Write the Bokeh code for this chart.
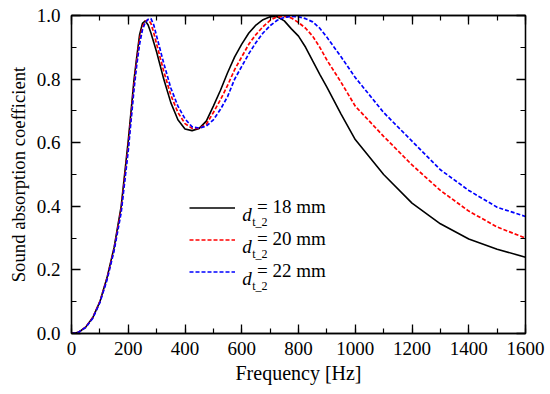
from bokeh.plotting import figure
from bokeh.models import (Range1d, LinearAxis, SingleIntervalTicker, PrintfTickFormatter,
                          CustomJSTickFormatter, Legend, LegendItem, Label, Title)
from bokeh.embed import file_html
from bokeh.resources import INLINE

# ---- data ----
freq = [0, 25, 50, 75, 100, 125, 150, 175,
        200, 210, 220, 230, 240, 250, 260, 270, 280, 290, 300,
        325, 350, 375, 400, 425, 450, 475, 500, 525, 550, 575, 600, 625, 650, 675,
        700, 725, 750, 775, 800, 825, 850, 875, 900,
        950, 1000, 1100, 1200, 1300, 1400, 1500, 1600]

alpha_18 = [0.0, 0.004, 0.02, 0.05, 0.10, 0.175, 0.27, 0.40,
            0.607, 0.70, 0.795, 0.87, 0.94, 0.975, 0.983, 0.97, 0.945, 0.915, 0.885,
            0.80, 0.726, 0.672, 0.643, 0.638, 0.645, 0.668, 0.715, 0.765, 0.82, 0.87,
            0.91, 0.945, 0.97, 0.987, 0.996, 0.996, 0.983, 0.958, 0.935, 0.90, 0.857,
            0.815, 0.775,
            0.69, 0.61, 0.50, 0.41, 0.345, 0.297, 0.265, 0.24]

alpha_20 = [0.0, 0.004, 0.02, 0.05, 0.10, 0.172, 0.265, 0.39,
            0.59, 0.685, 0.78, 0.86, 0.925, 0.965, 0.982, 0.987, 0.975, 0.945, 0.91,
            0.825, 0.75, 0.695, 0.66, 0.645, 0.645, 0.658, 0.695, 0.735, 0.78, 0.83,
            0.87, 0.91, 0.94, 0.965, 0.985, 0.996, 0.997, 0.992, 0.978, 0.96, 0.935,
            0.90, 0.86,
            0.79, 0.715, 0.62, 0.53, 0.45, 0.385, 0.335, 0.30]

alpha_22 = [0.0, 0.004, 0.019, 0.048, 0.097, 0.168, 0.26, 0.38,
            0.575, 0.67, 0.765, 0.845, 0.91, 0.955, 0.978, 0.988, 0.99, 0.97, 0.935,
            0.85, 0.772, 0.715, 0.675, 0.65, 0.646, 0.652, 0.672, 0.705, 0.745, 0.80,
            0.84, 0.88, 0.915, 0.945, 0.968, 0.985, 0.994, 0.997, 0.996, 0.99, 0.98,
            0.96, 0.932,
            0.87, 0.805, 0.695, 0.605, 0.515, 0.45, 0.397, 0.368]

legend_values = ["= 18 mm", "= 20 mm", "= 22 mm"]
legend_symbol = "d"
legend_sub = "t_2"
x_label = "Frequency [Hz]"
y_label = "Sound absorption coefficient"

FONT = "Liberation Serif"

p = figure(width=550, height=394, output_backend="svg", toolbar_location=None,
           x_range=Range1d(0, 1600), y_range=Range1d(0, 1.0),
           min_border_left=71, min_border_right=25, min_border_top=15, min_border_bottom=61,
           x_axis_label=x_label)
p.background_fill_color = "white"
p.border_fill_color = "white"
p.outline_line_color = "black"
p.outline_line_width = 1.3
p.xgrid.visible = False
p.ygrid.visible = False


def style_axis(ax, show_labels=True):
    ax.axis_line_color = "black"
    ax.axis_line_width = 1.3
    ax.major_tick_line_color = "black"
    ax.major_tick_line_width = 1.3
    ax.minor_tick_line_color = "black"
    ax.minor_tick_line_width = 1.2
    ax.major_tick_in = 9
    ax.major_tick_out = 0
    ax.minor_tick_in = 5
    ax.minor_tick_out = 0
    ax.major_label_text_font = FONT
    ax.major_label_text_color = "black"
    ax.axis_label_text_font = FONT
    ax.axis_label_text_font_style = "normal"
    ax.axis_label_text_color = "black"
    ax.axis_label_text_font_size = "20px"
    ax.major_label_text_font_size = "19px"
    if not show_labels:
        ax.formatter = CustomJSTickFormatter(code="return ''")
        ax.major_label_standoff = 0


p.xaxis.ticker = SingleIntervalTicker(interval=200, num_minor_ticks=2)
p.yaxis.ticker = SingleIntervalTicker(interval=0.2, num_minor_ticks=2)
p.yaxis.formatter = PrintfTickFormatter(format="%.1f")
for ax in p.xaxis:
    style_axis(ax)
    ax.major_label_standoff = 8
    ax.axis_label_standoff = 4
for ax in p.yaxis:
    style_axis(ax)
    ax.major_label_standoff = 11

top = LinearAxis(ticker=SingleIntervalTicker(interval=200, num_minor_ticks=2))
style_axis(top, show_labels=False)
p.add_layout(top, "above")
right = LinearAxis(ticker=SingleIntervalTicker(interval=0.2, num_minor_ticks=2))
style_axis(right, show_labels=False)
p.add_layout(right, "right")

ytitle = Title(text=y_label, align="center", offset=12, standoff=10,
               text_font=FONT, text_font_size="18.7px", text_font_style="normal",
               text_color="black")
p.add_layout(ytitle, "left")

r18 = p.line(freq, alpha_18, line_color="black", line_width=1.6)
r20 = p.line(freq, alpha_20, line_color="#ff0000", line_width=1.7, line_dash="4 2")
r22 = p.line(freq, alpha_22, line_color="#0000ff", line_width=1.7, line_dash="4 2")

legend = Legend(items=[LegendItem(label=legend_values[0], renderers=[r18]),
                       LegendItem(label=legend_values[1], renderers=[r20]),
                       LegendItem(label=legend_values[2], renderers=[r22])],
                location=(118, 47.5), padding=0, spacing=3, margin=0,
                glyph_height=29, label_height=29, glyph_width=46, label_standoff=22,
                border_line_color=None, background_fill_alpha=0,
                label_text_font=FONT, label_text_font_size="19px", label_text_color="black")
p.add_layout(legend, "center")

row_y = [119, 87, 55]
for yb in row_y:
    p.add_layout(Label(x=170.7, y=yb, x_units="screen", y_units="screen", text=legend_symbol,
                       text_font=FONT, text_font_style="italic", text_font_size="19px",
                       text_color="black", text_baseline="alphabetic", text_align="left"))
    p.add_layout(Label(x=180.7, y=yb - 7, x_units="screen", y_units="screen", text=legend_sub,
                       text_font=FONT, text_font_size="12px",
                       text_color="black", text_baseline="alphabetic", text_align="left"))

open("out.html", "w").write(file_html(p, INLINE))
